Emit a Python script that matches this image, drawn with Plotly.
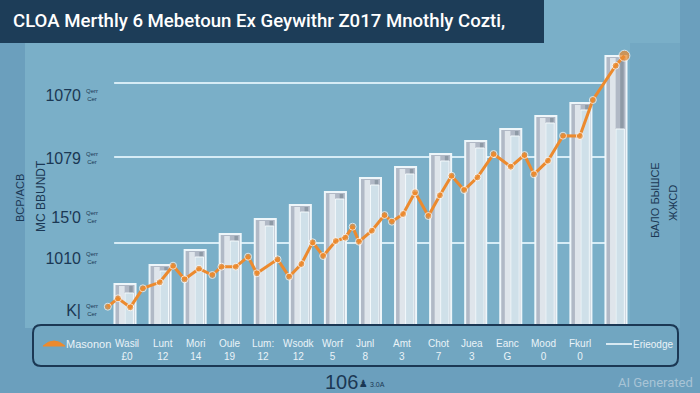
import plotly.graph_objects as go

# ---------------- data ----------------
bar_pos = list(range(15))
bar_outer = [46, 65, 80, 96, 111, 125, 138, 152, 163, 176, 189, 201, 214, 227, 274]
bar_inner = [37, 59, 73, 89, 104, 118, 131, 145, 156, 169, 182, 194, 207, 220, 201]

line_x = [-0.49, -0.20, 0.15, 0.51, 0.99, 1.37, 1.70, 2.11, 2.49, 2.75, 3.16, 3.51, 3.76,
          4.35, 4.68, 5.03, 5.35, 5.65, 6.01, 6.28, 6.49, 6.67, 7.04, 7.40, 7.61, 7.93,
          8.27, 8.65, 8.98, 9.31, 9.67, 10.05, 10.51, 11.00, 11.39, 11.66, 12.06, 12.49,
          12.97, 13.34, 13.99, 14.24]
line_y = [23.3, 31.7, 22.7, 41.7, 47.7, 64.3, 50.7, 61.3, 55, 63.3, 63.3, 73.3, 56.7,
          70.7, 53.3, 66, 87.7, 74, 89, 92.3, 103.3, 88.3, 99.3, 115, 108.3, 116,
          137.7, 114, 134.7, 154.3, 140, 152.7, 176, 163.3, 175, 155.7, 169.3, 194.3,
          194, 230, 264.3, 274.3]

grid_vals = [247, 173, 87]
ytick_vals = [235, 172, 113, 72, 20]
ytick_text = ["1070", "1079", "15'0", "1010", "K|"]

legend_names = ["Wasil", "Lunt", "Mori", "Oule", "Lum:", "Wsodk", "Worf",
                "Junl", "Amt", "Chot", "Juea", "Eanc", "Mood", "Fkurl"]
legend_vals = ["£0", "12", "14", "19", "12", "12", "5", "8", "3", "7", "3", "G", "0", "0"]
legend_px = [127, 163, 195, 230, 263, 299, 332, 365, 402, 438, 472, 507, 543, 580]

title_text = "CLOA Merthly 6 Mebetoun Ex Geywithr Z017 Mnothly Cozti,"

# ---------------- layout helpers ----------------
L, R, T, B = 90, 50, 40, 63
W, H = 700, 393
PW, PH = W - L - R, H - T - B


def X(px):
    return (px - L) / PW


def Y(py):
    return (H - B - py) / PH


NAVY = "#1b3854"
ORANGE = "#ec8a2e"
FONT = "Liberation Sans, Arial"

fig = go.Figure()

# outer frame bars
fig.add_trace(go.Bar(x=bar_pos, y=bar_outer, width=0.6,
                     marker=dict(color="#b1b9c6", line=dict(color="#eef6fa", width=2)),
                     hoverinfo="skip"))
# light highlight stripe
fig.add_trace(go.Bar(x=bar_pos, y=[v - 2 for v in bar_outer], width=0.16, offset=-0.17,
                     marker=dict(color="#dfe5eb", line=dict(width=0)), hoverinfo="skip"))
# dark notch above inner bar
fig.add_trace(go.Bar(x=bar_pos, y=[o - i - 2 for o, i in zip(bar_outer, bar_inner)],
                     base=bar_inner, width=0.1, offset=0.12,
                     marker=dict(color="#8e9aa6", line=dict(width=0)), hoverinfo="skip"))
# inner bar
fig.add_trace(go.Bar(x=bar_pos, y=bar_inner, width=0.24, offset=0.0,
                     marker=dict(color="#cfe0e9", line=dict(color="#f3f9fc", width=1)),
                     hoverinfo="skip"))
# orange line
fig.add_trace(go.Scatter(x=line_x, y=line_y, mode="lines+markers",
                         line=dict(color=ORANGE, width=3),
                         marker=dict(color=ORANGE, size=[7] * (len(line_x) - 1) + [11]),
                         hoverinfo="skip"))

shapes = []
# light central panel
shapes.append(dict(type="rect", xref="paper", yref="paper", x0=X(25), x1=X(680), y0=Y(328), y1=Y(0),
                   fillcolor="#7aafc8", line=dict(width=0), layer="below"))
shapes.append(dict(type="rect", xref="paper", yref="paper", x0=X(630), x1=X(680), y0=Y(328), y1=Y(43),
                   fillcolor="#73a8c3", line=dict(width=0), layer="below"))
# title bar
shapes.append(dict(type="rect", xref="paper", yref="paper", x0=X(0), x1=X(544), y0=Y(43), y1=Y(0),
                   fillcolor="#1d3d58", line=dict(width=0), layer="above"))
# gridlines
for g in grid_vals:
    shapes.append(dict(type="line", xref="x", yref="y", x0=-0.31, x1=13.7, y0=g, y1=g,
                       line=dict(color="#d6ecf6", width=2), layer="below"))
# legend box (rounded)
x0, x1, y0, y1 = X(33), X(678), Y(366), Y(325)
rx, ry = 8 / PW, 8 / PH
path = (f"M {x0+rx},{y1} L {x1-rx},{y1} Q {x1},{y1} {x1},{y1-ry} L {x1},{y0+ry} "
        f"Q {x1},{y0} {x1-rx},{y0} L {x0+rx},{y0} Q {x0},{y0} {x0},{y0+ry} "
        f"L {x0},{y1-ry} Q {x0},{y1} {x0+rx},{y1} Z")
shapes.append(dict(type="path", xref="paper", yref="paper", path=path,
                   fillcolor="#71a6c1", line=dict(color=NAVY, width=2), layer="above"))
# orange mound legend symbol
shapes.append(dict(type="path", xref="paper", yref="paper",
                   path=f"M {X(43)},{Y(346)} Q {X(54)},{Y(336)} {X(65)},{Y(346)} Z",
                   fillcolor=ORANGE, line=dict(color=ORANGE, width=1), layer="above"))
# light legend line
shapes.append(dict(type="line", xref="paper", yref="paper", x0=X(606), x1=X(632), y0=Y(344), y1=Y(344),
                   line=dict(color="#d8e9f2", width=2), layer="above"))

ann = []


def text(t, px, py, size, color=NAVY, angle=0, xanchor="center", family=FONT, weight=None, yref="paper"):
    f = dict(family=family, size=size, color=color)
    if weight:
        f["weight"] = weight
    ann.append(dict(text=t, xref="paper", yref=yref, x=X(px), y=(Y(py) if yref == "paper" else py),
                    xanchor=xanchor, yanchor="middle", textangle=angle, showarrow=False,
                    align="center", font=f))


text(title_text, 11, 21, 18.6, color="white", xanchor="left", family="Roboto", weight=500)
# small garbled tick annotations
for v in ytick_vals:
    text("Qerr<br>Cer", 84, v, 6, xanchor="left", yref="y")
# side rotated texts
text("BCP/ACB", 20, 198, 11, angle=-90)
text("MC BBUNDT", 41, 196, 12, angle=-90)
text("БАЛО БЫШСЕ", 655, 200, 11, angle=-90)
text("ЖЖСD", 673, 203, 11, angle=-90)
# legend texts
LC = "#eaf3f8"
text("Masonon", 88, 344, 11, color=LC)
for name, val, px in zip(legend_names, legend_vals, legend_px):
    text(f"{name}<br>{val}", px, 350, 10, color=LC)
text("Erieodge", 653, 344, 10, color=LC)
# bottom texts
text("106", 323, 382, 20, xanchor="left")
text("♟", 357, 383, 10, xanchor="left", family="DejaVu Sans")
text("3.0A", 368, 384, 7, xanchor="left")
text("AI Generated", 695, 382, 13, color="#a8c4d6", xanchor="right", family="Roboto")

fig.update_layout(
    width=W, height=H,
    margin=dict(l=L, r=R, t=T, b=B, pad=0),
    paper_bgcolor="#6b9fbd",
    plot_bgcolor="rgba(0,0,0,0)",
    barmode="overlay",
    showlegend=False,
    shapes=shapes,
    annotations=ann,
    xaxis=dict(range=[-0.998, 14.97], visible=False, fixedrange=True),
    yaxis=dict(range=[0, PH], showgrid=False, zeroline=False, showline=False,
               tickvals=ytick_vals, ticktext=ytick_text, ticks="", ticklabelstandoff=8,
               tickfont=dict(family=FONT, size=16, color=NAVY), fixedrange=True),
)

fig.write_html("out.html")
